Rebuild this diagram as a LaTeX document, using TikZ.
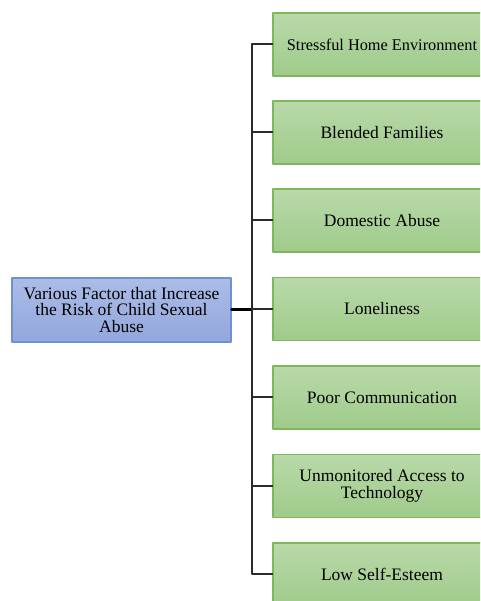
\documentclass[tikz,border=0pt]{standalone}
\usepackage{fontspec}
\setmainfont{Liberation Serif}
\usetikzlibrary{positioning}

\definecolor{boxgreentop}{HTML}{B9D9A9}
\definecolor{boxgreenbot}{HTML}{9FCB8B}
\definecolor{boxgreenline}{HTML}{7DB75E}
\definecolor{boxbluetop}{HTML}{ABBCE7}
\definecolor{boxbluebot}{HTML}{92A7DC}
\definecolor{boxblueline}{HTML}{7090D5}
\definecolor{linkgray}{HTML}{2B2B2B}

\begin{document}
\begin{tikzpicture}[x=1pt,y=1pt,line cap=round,line join=round,
  factor/.style={draw=boxgreenline,line width=1.2pt,top color=boxgreentop,bottom color=boxgreenbot,
    minimum width=218pt,minimum height=63pt,inner sep=3pt,align=center,
    font=\fontsize{17.5}{17}\selectfont},
  rootbox/.style={draw=boxblueline,line width=1.2pt,top color=boxbluetop,bottom color=boxbluebot,
    minimum width=219pt,minimum height=64pt,inner sep=3pt,align=center,
    font=\fontsize{17.5}{16.7}\selectfont},
  link/.style={draw=linkgray,line width=2pt},
  rootlink/.style={draw=black,line width=3pt}]

\useasboundingbox (0,0) rectangle (480,601);
\clip (0,0) rectangle (480,601);

% factor boxes
\node[factor] (stress)  at (382,556.5) {\fontsize{16.3}{17}\selectfont Stressful Home Environment};
\node[factor] (blended) at (382,468.5) {Blended Families};
\node[factor] (domestic) at (382,380.5) {Domestic Abuse};
\node[factor] (lonely)  at (382,292) {Loneliness};
\node[factor] (comm)    at (382,203.5) {Poor Communication};
\node[factor] (tech)    at (382,115) {Unmonitored Access to\\Technology};
\node[factor] (esteem)  at (382,26.5) {Low Self-Esteem};

% root box
\node[rootbox] (risk) at (121.5,291) {Various Factor that Increase\\the Risk of Child Sexual\\Abuse};

\coordinate (hub) at (252,292);

% connectors
\draw[rootlink] (risk.east) -- (hub |- risk.east);
\draw[link] (hub) |- (stress.west);
\draw[link] (hub) |- (blended.west);
\draw[link] (hub) |- (domestic.west);
\draw[link] (hub) |- (lonely.west);
\draw[link] (hub) |- (comm.west);
\draw[link] (hub) |- (tech.west);
\draw[link] (hub) |- (esteem.west);
\end{tikzpicture}
\end{document}
